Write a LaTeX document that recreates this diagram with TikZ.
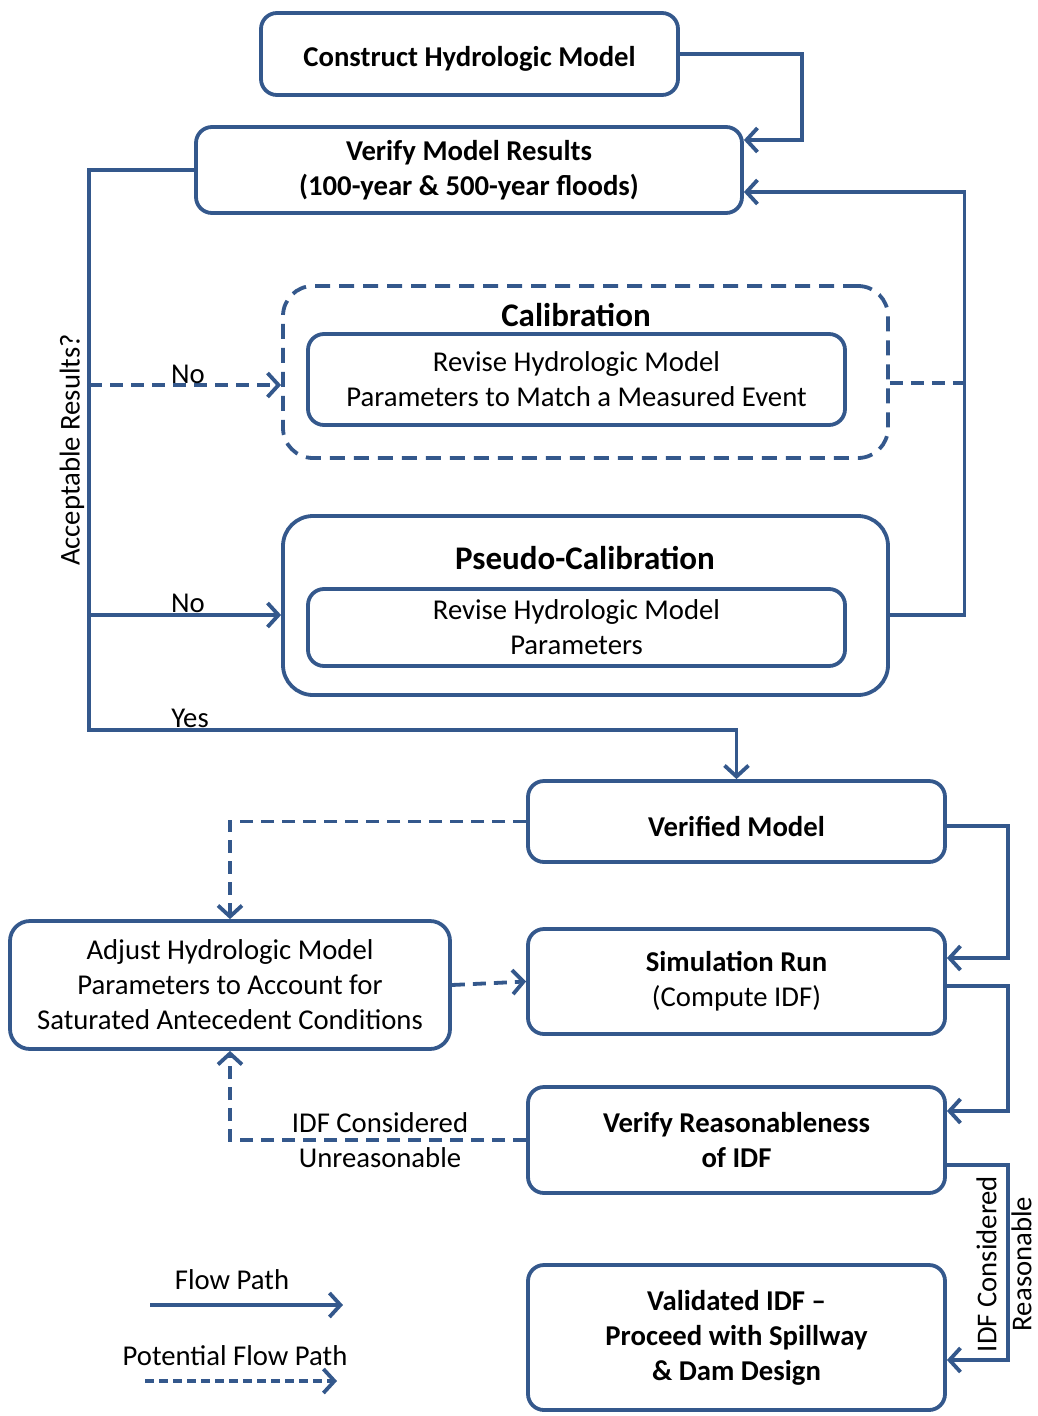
\documentclass[tikz,border=0pt]{standalone}
\usepackage{fontspec}
\setmainfont{Carlito}
\usetikzlibrary{arrows.meta}
\definecolor{flowblue}{HTML}{34588C}
\tikzset{
	stepbox/.style={draw=flowblue, line width=3.8pt, rounded corners=16pt, fill=white, align=center,
		inner sep=0pt, minimum width=417pt, font=\fontsize{28.7}{35}\selectfont\bfseries,
		execute at begin node={\rule{0pt}{30pt}}},
	plainbox/.style={stepbox, font=\fontsize{28.7}{35}\selectfont},
	groupbox/.style={draw=flowblue, line width=3.8pt, rounded corners=30pt, inner sep=0pt,
		minimum width=605pt},
	title/.style={font=\fontsize{33}{38}\selectfont\bfseries, inner sep=0pt},
	lbl/.style={font=\fontsize{28.7}{35}\selectfont, align=center, inner sep=0pt},
	flow/.style={draw=flowblue, line width=3.8pt, -{Straight Barb[length=11pt,width=24pt]}},
	pflow/.style={flow, dash pattern=on 13pt off 8pt},
	pline/.style={draw=flowblue, line width=3.8pt, dash pattern=on 13pt off 8pt}
}
\begin{document}
\begin{tikzpicture}[x=1pt,y=-1pt]
		\useasboundingbox (0,0) rectangle (1037,1416);
		% top part
		\node[stepbox] (cons) at (469.5,54) [minimum height=82pt] {Construct Hydrologic Model};
		\node[stepbox] (verify) at (469,170) [minimum width=546pt, minimum height=86pt]
			{Verify Model Results\\(100-year \& 500-year floods)};
		
		% calibration groups
		\node[groupbox, dash pattern=on 15pt off 9pt, minimum height=172pt] (calib) at (585.5,372) {};
		\node[title] (calibtitle) at (576,315) {Calibration};
		\node[plainbox, minimum width=537pt, minimum height=91pt] (calibin) at (576.5,379.5)
			{Revise Hydrologic Model\\Parameters to Match a Measured Event};
		\node[groupbox, minimum height=179pt] (pseudo) at (585.5,605.5) {};
		\node[title] (pseudotitle) at (585,558) {Pseudo-Calibration};
		\node[plainbox, minimum width=537pt, minimum height=77pt] (pseudoin) at (576.5,627.5)
			{Revise Hydrologic Model\\Parameters};
		
		% lower part
		\node[stepbox, minimum height=81pt] (verified) at (736.5,821.5) {Verified Model};
		\node[stepbox, minimum height=105pt] (simrun) at (736.5,981.5)
			{Simulation Run\\{\mdseries (Compute IDF)}};
		\node[stepbox, minimum height=106pt] (verreas) at (736.5,1140) {Verify Reasonableness\\of IDF};
		\node[stepbox, minimum height=145pt] (valid) at (736.5,1337.5)
			{Validated IDF --\\Proceed with Spillway\\\& Dam Design};
		\node[plainbox, minimum width=440pt, minimum height=128pt, rounded corners=20pt] (adjust) at (230,985)
			{Adjust Hydrologic Model\\Parameters to Account for\\Saturated Antecedent Conditions};
		
		% connectors, top
		\draw[flow] (cons.east) -- ++(122,0) |- ([yshift=30pt]verify.east);
		\draw[flow] ([yshift=-9.5pt]pseudo.east) -- ++(74.5,0) coordinate (rbus) |- ([yshift=-22pt]verify.east);
		\draw[pline] ([yshift=-11pt]calib.east) -- ([yshift=-11pt]calib.east -| rbus);
		\coordinate (yesc) at (89,730);
		\coordinate (nocal) at (89,385);
		\coordinate (nops) at (89,615);
		\draw[flow] (verify.west) -| (yesc) -| (verified.north);
		\draw[pflow] (nocal) -- (nocal -| calib.west);
		\draw[flow] (nops) -- (nops -| pseudo.west);
		\node[lbl, anchor=base] (no1) at (188,383) {No};
		\node[lbl, anchor=base] (no2) at (188,612) {No};
		\node[lbl, anchor=base] (yes) at (190,727) {Yes};
		\node[lbl, rotate=90] (accept) at (72,450) {Acceptable Results?};
		
		% connectors, bottom
		\foreach \a/\b/\sa/\sb in {verified/simrun/-4.5/23.5, simrun/verreas/-4.5/29, verreas/valid/-25/-22.5}
			\draw[flow] ([yshift=\sa pt]\a.east) -- ++(61,0) |- ([yshift=\sb pt]\b.east);
		\draw[pflow] (verified.west) -| (adjust.north);
		\draw[pflow] (adjust.east) -- (simrun.west);
		\draw[pflow] (verreas.west) -| (adjust.south);
		\node[lbl] (unreas) at (380,1140) {IDF Considered\\Unreasonable};
		\node[lbl, rotate=90] (reas) at (1004,1264) {IDF Considered\\Reasonable};
		
		% legend
		\node[lbl] (legflow) at (232,1280) {Flow Path};
		\node[lbl] (legpot) at (235,1356) {Potential Flow Path};
		\coordinate (fa) at (150,1305);
		\coordinate (fb) at (343,1305);
		\coordinate (pa) at (145,1381);
		\coordinate (pb) at (337,1381);
		\draw[flow] (fa) -- (fb);
		\draw[flow, dash pattern=on 9pt off 5pt] (pa) -- (pb);
\end{tikzpicture}
\end{document}
